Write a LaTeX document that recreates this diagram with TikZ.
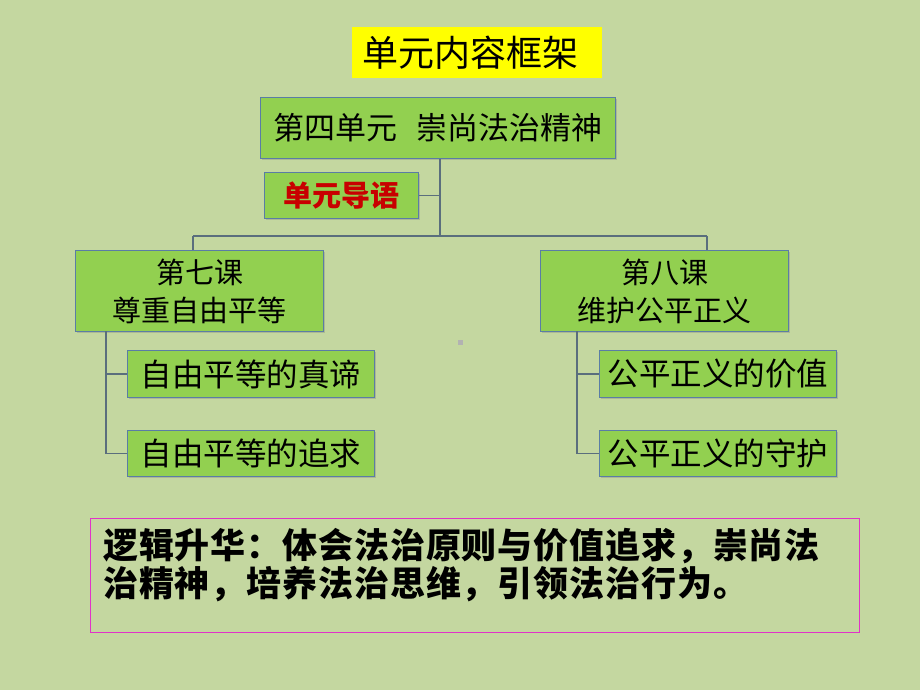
\documentclass[tikz,border=0pt]{standalone}
\usepackage{fontspec}
\newfontfamily\cjk{Noto Sans CJK SC}
\newfontfamily\cjksp[LetterSpace=2.5]{Noto Sans CJK SC}
\usetikzlibrary{shadows}
\definecolor{bg}{RGB}{196,215,160}
\definecolor{boxfill}{RGB}{146,208,80}
\definecolor{boxline}{RGB}{90,125,165}
\definecolor{conn}{RGB}{90,110,125}
\definecolor{titley}{RGB}{255,255,0}
\definecolor{magline}{RGB}{225,50,200}
\definecolor{redtext}{RGB}{200,0,0}
\tikzset{
  greenbox/.style={draw=boxline, line width=1pt, fill=boxfill, inner sep=0pt, anchor=north west,
    drop shadow={shadow xshift=1.5pt, shadow yshift=-1.5pt, opacity=0.35}},
  connline/.style={draw=conn, line width=1.5pt},
  txt/.style={inner sep=0pt, text=black}
}
\begin{document}
\begin{tikzpicture}[x=1pt,y=-1pt]
\fill[bg] (0,0) rectangle (920,690);
\useasboundingbox (0,0) rectangle (920,690);
% title
\node[fill=titley, minimum width=250pt, minimum height=51pt, inner sep=0pt, anchor=north west] (title) at (352,27) {};
\node[txt, font=\cjk\fontsize{36}{40}\selectfont] (titletxt) at (470,53) {单元内容框架};
% top unit box
\node[greenbox, minimum width=355pt, minimum height=61pt] (unit) at (260,97) {};
\node[txt, font=\cjk\fontsize{31}{34}\selectfont] (unittxt) at (unit.center) {第四单元\hspace{0.6em}崇尚法治精神};
% guide box
\node[greenbox, minimum width=154pt, minimum height=46pt] (guide) at (264,172) {};
\node[txt, text=redtext, font=\cjk\bfseries\fontsize{29}{32}\selectfont] (guidetxt) at (guide.center) {单元导语};
% lesson boxes
\node[greenbox, minimum width=248pt, minimum height=81pt] (l7) at (75,250) {};
\node[txt, align=center, font=\cjk\fontsize{29}{38}\selectfont] (l7txt) at (l7.center) {第七课\\尊重自由平等};
\node[greenbox, minimum width=248pt, minimum height=81pt] (l8) at (540,250) {};
\node[txt, align=center, font=\cjk\fontsize{29}{38}\selectfont] (l8txt) at (l8.center) {第八课\\维护公平正义};
% sub boxes
\node[greenbox, minimum width=247pt, minimum height=47pt] (s1) at (127,350) {};
\node[txt, font=\cjk\fontsize{31.5}{36}\selectfont] (s1txt) at (s1.center) {自由平等的真谛};
\node[greenbox, minimum width=247pt, minimum height=46pt] (s2) at (127,430) {};
\node[txt, font=\cjk\fontsize{31.5}{36}\selectfont] (s2txt) at (s2.center) {自由平等的追求};
\node[greenbox, minimum width=237pt, minimum height=47pt] (s3) at (599,350) {};
\node[txt, font=\cjk\fontsize{31.5}{36}\selectfont] (s3txt) at (s3.center) {公平正义的价值};
\node[greenbox, minimum width=237pt, minimum height=46pt] (s4) at (599,430) {};
\node[txt, font=\cjk\fontsize{31.5}{36}\selectfont] (s4txt) at (s4.center) {公平正义的守护};
% connector coordinates
\coordinate (cj) at (440,236);
\coordinate (cl) at (193,236);
\coordinate (cr) at (707,236);
% connectors
\draw[connline] (unit.south -| cj) -- (cj);
\draw[connline] (guide.east) -- (guide.east -| cj);
\draw[connline] (cl) -- (cr);
\draw[connline] (cl) -- (cl |- l7.north);
\draw[connline] (cr) -- (cr |- l8.north);
\coordinate (lv) at (106,331);
\coordinate (rv) at (577,331);
\draw[connline] (lv) -- (lv |- s2.west) -- (s2.west);
\draw[connline] (lv |- s1.west) -- (s1.west);
\draw[connline] (rv) -- (rv |- s4.west) -- (s4.west);
\draw[connline] (rv |- s3.west) -- (s3.west);
% small mark
\node[fill=gray!60, minimum size=5pt, inner sep=0pt] (dot) at (460,342) {};
% summary box
\node[draw=magline, line width=1pt, minimum width=769pt, minimum height=114pt, inner sep=0pt, anchor=north west] (sum) at (90,518) {};
\node[txt, anchor=north west, align=left, font=\cjksp\bfseries\fontsize{35}{38.5}\selectfont] (sumtxt) at (103,528)
  {逻辑升华：体会法治原则与价值追求，崇尚法\\治精神，培养法治思维，引领法治行为。};
\end{tikzpicture}
\end{document}
